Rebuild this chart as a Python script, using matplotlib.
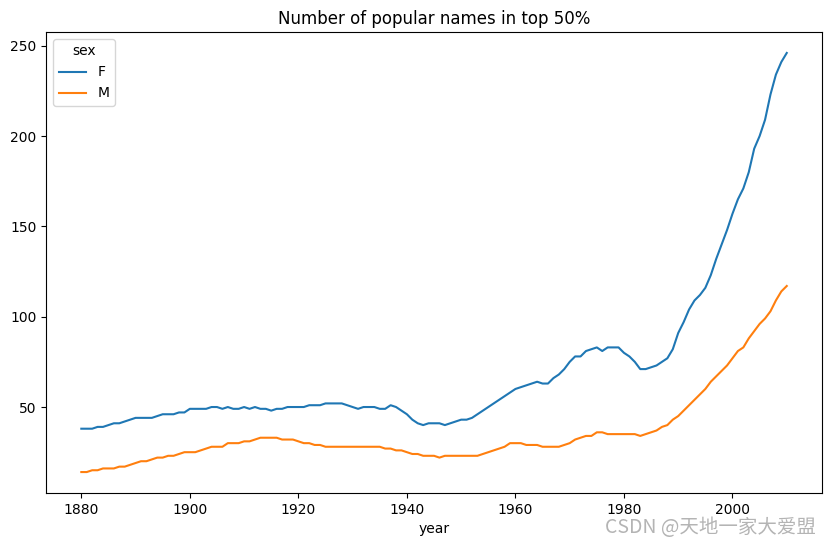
import numpy as np
import matplotlib
matplotlib.use("Agg")
import matplotlib.pyplot as plt

years = np.arange(1880, 2011)

# number of names making up the top 50% of births, per year
female = [38, 38, 38, 39, 39, 40, 41, 41, 42, 43,
          44, 44, 44, 44, 45, 46, 46, 46, 47, 47,
          49, 49, 49, 49, 50, 50, 49, 50, 49, 49,
          50, 49, 50, 49, 49, 48, 49, 49, 50, 50,
          50, 50, 51, 51, 51, 52, 52, 52, 52, 51,
          50, 49, 50, 50, 50, 49, 49, 51, 50, 48,
          46, 43, 41, 40, 41, 41, 41, 40, 41, 42,
          43, 43, 44, 46, 48, 50, 52, 54, 56, 58,
          60, 61, 62, 63, 64, 63, 63, 66, 68, 71,
          75, 78, 78, 81, 82, 83, 81, 83, 83, 83,
          80, 78, 75, 71, 71, 72, 73, 75, 77, 82,
          91, 97, 104, 109, 112, 116, 123, 132, 140, 148,
          157, 165, 171, 180, 193, 200, 209, 223, 234, 241,
          246]
male = [14, 14, 15, 15, 16, 16, 16, 17, 17, 18,
        19, 20, 20, 21, 22, 22, 23, 23, 24, 25,
        25, 25, 26, 27, 28, 28, 28, 30, 30, 30,
        31, 31, 32, 33, 33, 33, 33, 32, 32, 32,
        31, 30, 30, 29, 29, 28, 28, 28, 28, 28,
        28, 28, 28, 28, 28, 28, 27, 27, 26, 26,
        25, 24, 24, 23, 23, 23, 22, 23, 23, 23,
        23, 23, 23, 23, 24, 25, 26, 27, 28, 30,
        30, 30, 29, 29, 29, 28, 28, 28, 28, 29,
        30, 32, 33, 34, 34, 36, 36, 35, 35, 35,
        35, 35, 35, 34, 35, 36, 37, 39, 40, 43,
        45, 48, 51, 54, 57, 60, 64, 67, 70, 73,
        77, 81, 83, 88, 92, 96, 99, 103, 109, 114,
        117]
sexes = ["F", "M"]

fig = plt.figure(figsize=(8.31, 5.47), dpi=100)
ax = fig.add_axes([0.0554, 0.0987, 0.9338, 0.8428])

ax.plot(years, female, label=sexes[0])
ax.plot(years, male, label=sexes[1])

ax.set_title("Number of popular names in top 50%", fontsize=12)
ax.set_xlabel("year")
ax.set_yticks([50, 100, 150, 200, 250])
ax.legend(title="sex", loc="upper left")

fig.text(0.982, 0.035, "CSDN @天地一家大爱盟", ha="right", va="center",
         fontsize=14, color="#b4b4b4",
         family=["Noto Sans CJK SC", "DejaVu Sans"])

fig.savefig("out.png", dpi=100)
